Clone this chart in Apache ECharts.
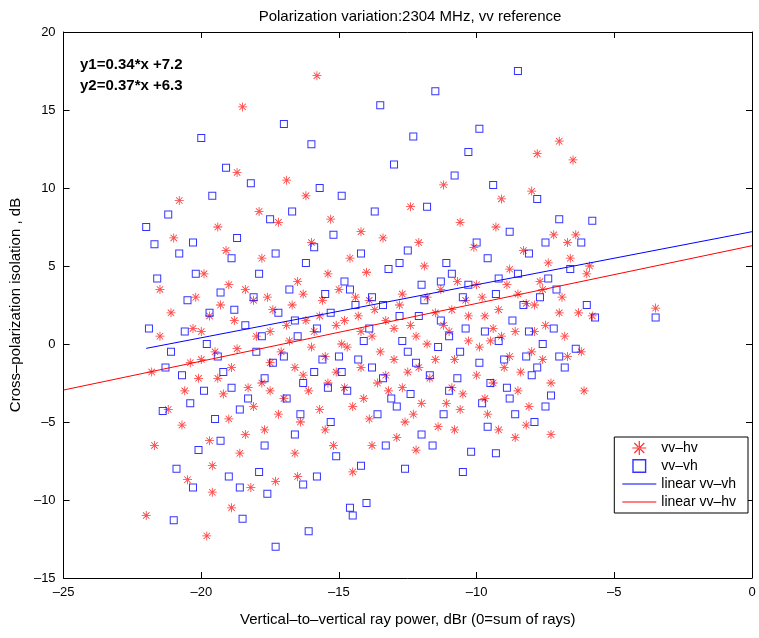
<!DOCTYPE html>
<html lang="en">
<head>
  <meta charset="UTF-8">
  <title>Polarization variation</title>
  <script src="https://cdn.jsdelivr.net/npm/echarts@6/dist/echarts.min.js"></script>
  <style>
    html, body { margin: 0; padding: 0; background: #fff; }
    #chart { width: 759px; height: 638px; }
  </style>
</head>
<body>
<div id="chart"></div>
<script>
// vv-hv points (red stars)
var vvHv = [
  [-22,-11],[-21.8,-1.8],[-21.5,3.5],[-21.2,-4.2],[-21,6.8],[-20.8,9.2],[-20.6,-3],[-20.5,-8.7],[-20.3,1],[-20.1,-2.2],
  [-19.9,4.5],[-19.8,-12.3],[-19.7,-6.2],[-19.5,-0.5],[-19.3,2.5],[-19.1,6],[-19,-4.8],[-18.9,-1.5],[-18.7,11],[-18.5,15.2],
  [-18.4,3.5],[-18.3,-2.8],[-18.2,-9.2],[-18,0.5],[-17.8,5.5],[-17.7,-5.5],[-17.5,-1.2],[-17.4,2.2],[-17.2,7.8],[-17,-3.5],
  [-16.9,10.5],[-16.8,0.2],[-16.6,-7],[-16.5,4],[-16.3,-2],[-16.2,1.5],[-16,6.5],[-15.8,17.2],[-15.7,-4.2],[-15.6,2.8],
  [-15.5,-0.8],[-15.3,8],[-15.2,-6.5],[-15,3.5],[-14.9,0],[-14.8,-2.8],[-14.6,5.5],[-14.5,-8.2],[-14.3,1.8],[-14.2,-1.5],
  [-14,4.6],[-13.9,-4.8],[-13.7,2.2],[-13.5,-0.5],[-13.4,6.8],[-13.2,-3],[-13,1],[-12.9,-6],[-12.7,3.2],[-12.5,-1.8],
  [-12.4,8.8],[-12.2,0.5],[-12,-3.8],[-11.9,5],[-11.7,-2.2],[-11.5,2],[-11.4,-5.3],[-11.2,10.2],[-11,0.8],[-10.8,-1],
  [-10.7,4],[-10.5,-3.2],[-10.3,1.8],[-10.1,6.2],[-10,-2],[-9.8,3],[-9.6,-4.5],[-9.5,0.2],[-9.3,7.5],[-9.2,2.2],
  [-9,-1.5],[-8.8,4.8],[-8.6,0.8],[-8.5,-3],[-8.3,6],[-8.2,2.6],[-8,-0.5],[-7.8,12.2],[-7.7,4],[-7.5,1.2],
  [-7.3,-2.5],[-7.2,7],[-7,13],[-6.9,3],[-6.7,-0.8],[-6.6,5.5],[-6.5,11.8],[-6.3,2],[-6.1,-3],[-6,4.5],
  [-5.8,1.8],[-3.5,2.3],
  [-21.5,0.5],[-20.7,-5.2],[-20.2,3],[-19.6,-9.5],[-19.2,-3.2],[-18.8,1.5],[-18.1,-4],[-17.6,3],[-17.1,-0.5],[-16.7,2.5],
  [-16.4,-5],[-15.9,0.8],[-15.4,-2.5],[-15.1,1.2],[-14.7,-0.2],[-14.4,3],[-13.8,0.5],[-13.3,-2],[-12.8,2.5],[-12.3,-4.5],
  [-11.8,0],[-11.3,3.5],[-10.9,-2.8],[-10.4,2.8],[-9.9,-0.2],[-9.4,1],[-8.9,3.8],[-8.4,-1.8],[-7.9,2.5],[-7.4,5.2],
  [-6.8,0.5],[-6.4,7],[-20,-1],[-18.6,-7],[-17.3,-8.8],[-16.1,-3],[-14.1,-3.5],[-12.6,-5],[-11.1,-3.8],[-9.7,-3.5],
  [-8.1,-4],[-7.6,-1],[-19.4,7.5],[-17.9,8.5],[-16.2,9.5],[-14.2,7.2],[-12.1,6.5],[-10.6,7.8],[-9.1,9.3],[-8,9.8],
  [-21.7,-6.5],[-21.1,2],[-20.4,-1.2],[-20,0.8],[-19.7,1.8],[-19.4,-2.2],[-19,3.8],[-18.7,-0.3],[-18.4,-5.8],[-18.1,2.8],
  [-17.8,-2.5],[-17.5,0.8],[-17.2,-4.5],[-16.9,1.2],[-16.6,-1.5],[-16.3,3.2],[-16,-0.2],[-15.7,1.8],[-15.4,4.5],[-15.1,-1.8],
  [-14.8,1.5],[-14.5,-4],[-14.2,0.8],[-13.9,2.8],[-13.6,-2.5],[-13.3,1.5],[-13,-1],[-12.7,-2.8],[-12.4,1.2],[-12.1,-1.5],
  [-11.8,3],[-11.5,-1],[-11.2,1.2],[-10.9,2.2],[-10.6,-4.2],[-10.3,0.2],[-10,3.8],[-9.7,1.8],[-9.4,-2.5],[-9.1,0.5],
  [-8.8,-0.8],[-8.5,3.2],[-8.2,-5.2],[-7.9,0.8],[-7.6,3.5],[-7.3,-5.8],[-7,2],[-6.7,6.5],[-6.2,-0.5],[-5.9,5],
  [-19.6,-7.8],[-18.9,-10.5],[-17.5,-3],[-16.5,-8.5],[-15.5,-5.5],[-13.8,-6.5],[-12.2,-6.8],[-10.8,-5.5],[-9.2,-5.5],[-8.6,-6]
];
// vv-vh points (blue squares)
var vvVh = [
  [-22,7.5],[-21.9,1],[-21.6,4.2],[-21.4,-4.3],[-21.2,8.3],[-21,-11.3],[-20.8,5.8],[-20.7,-2],[-20.5,2.8],[-20.3,6.5],
  [-20.1,-6.8],[-20,13.2],[-19.8,0],[-19.6,9.5],[-19.5,-4.8],[-19.3,3.3],[-19.1,11.3],[-18.9,-2.8],[-18.7,6.8],[-18.6,-9.2],
  [-18.4,1.2],[-18.2,10.3],[-18,-0.5],[-17.9,4.5],[-17.7,-6.5],[-17.5,8],[-17.3,-13],[-17.2,2],[-17,14.1],[-16.9,-3.5],
  [-16.7,8.5],[-16.5,0.5],[-16.3,-9],[-16.2,5.2],[-16,12.8],[-15.9,-1.8],[-15.7,10],[-15.5,3.2],[-15.3,-5],[-15.2,7],
  [-15,-0.8],[-14.9,9.5],[-14.7,-3],[-14.5,-11],[-14.4,2.5],[-14.2,5.8],[-14,-10.2],[-13.9,1],[-13.7,8.5],[-13.5,15.3],
  [-13.4,-2.2],[-13.2,4.8],[-13,11.5],[-12.9,-4],[-12.7,0.2],[-12.5,6],[-12.3,13.3],[-12.2,-1.2],[-12,3.8],[-11.8,8.8],
  [-11.6,-6.5],[-11.5,16.2],[-11.3,1.5],[-11.1,5.2],[-11,-3],[-10.8,10.8],[-10.6,-0.5],[-10.5,3],[-10.3,12.3],[-10.2,-6.9],
  [-10,6.5],[-9.9,13.8],[-9.7,0.8],[-9.5,-2.5],[-9.4,10.2],[-9.2,4.2],[-9,-1],[-8.8,7.2],[-8.6,-4.5],[-8.5,17.5],
  [-8.3,2.5],[-8.1,5.8],[-8,-2],[-7.8,9.3],[-7.6,0],[-7.5,6.5],[-7.3,-3.3],[-7.1,3.5],[-7,8],[-6.8,-1.5],
  [-6.6,4.8],[-6.4,-0.3],[-6.2,6.5],[-6,2.5],[-5.8,7.9],[-5.7,1.7],[-3.5,1.7],
  [-21.3,-1.5],[-20.6,0.8],[-19.9,-3],[-19.4,-0.8],[-18.8,2.2],[-18.3,-3.5],[-17.8,0.5],[-17.4,-1.2],[-16.8,3.5],[-16.4,-4.5],
  [-15.8,1],[-15.4,-2.8],[-14.8,4],[-14.3,-1],[-13.8,3],[-13.3,-6.5],[-12.8,1.8],[-12.4,-3.2],[-11.9,2.8],[-11.4,-0.2],
  [-10.9,4.5],[-10.4,1],[-9.8,-3.8],[-9.3,3.2],[-8.7,1.5],[-8.2,-0.8],[-7.7,3],[-7.2,1],[-19,-8.5],[-17.6,-9.6],
  [-16.6,-5.8],[-15.1,-7.2],[-13.6,-4.5],[-12.6,-8],[-11.2,-4.5],[-9.6,-5.3],[-7.9,-5],[-20.9,-8],[-18.5,-11.2],[-16.1,-12],
  [-14.6,-10.5],
  [-21.7,6.4],[-21.1,-0.5],[-20.4,-3.8],[-20.2,4.5],[-19.7,2],[-19.2,-1.8],[-18.9,5.5],[-18.6,-4.2],[-18.1,3],[-17.7,-2.2],
  [-17.3,5.8],[-17,-0.8],[-16.6,1.5],[-16.3,-2.5],[-15.9,6.2],[-15.6,-1],[-15.3,2],[-14.9,-1.8],[-14.6,3.5],[-14.1,0.2],
  [-13.8,-1.5],[-13.4,2.5],[-13.1,-3.5],[-12.8,5.2],[-12.5,-0.5],[-12.1,1.8],[-11.7,-2],[-11.3,4],[-11,0.5],[-10.7,-2.2],
  [-10.3,3.8],[-9.9,-1.2],[-9.6,5.5],[-9.2,0.2],[-8.9,-2.8],[-8.5,4.5],[-8.1,0.8],[-7.8,-1.5],[-7.4,4.2],[-7,-0.8],
  [-20.3,-9.2],[-19.3,-6.2],[-17.9,-8.2],[-15.8,-8.5],[-14.2,-7.8],[-12,-5.8],[-10.5,-8.2],[-9.3,-7],[-8.8,-3.5],[-7.5,-4]
];
// fitted lines: endpoints x, slope, offset
var fitVhX = [-22, 0], fitVhA = 0.34, fitVhB = 7.2;
var fitHvX = [-25, 0], fitHvA = 0.37, fitHvB = 6.3;
var xTicks = [-25, 0, 5];   // min, max, interval
var yTicks = [-15, 20, 5];

function linePts(xs, a, b) {
  return xs.map(function (x) { return [x, a * x + b]; });
}
function minus(v) { return String(v).replace('-', '\u2013'); }

var star = 'path://M-0.7,-8L0.7,-8L0.7,8L-0.7,8Z M-8,-0.7L8,-0.7L8,0.7L-8,0.7Z ' +
  'M-6.2,-5.2L5.2,6.2L6.2,5.2L-5.2,-6.2Z M6.2,-5.2L-5.2,6.2L-6.2,5.2L5.2,-6.2Z';
var square = 'path://M0,0L8,0L8,8L0,8Z M1,1L1,7L7,7L7,1Z';
var starIcon = 'path://M16.3,0L17.7,0L17.7,16L16.3,16Z M9,7.3L25,7.3L25,8.7L9,8.7Z ' +
  'M10.8,2.8L22.2,14.2L23.2,13.2L11.8,1.8Z M23.2,2.8L11.8,14.2L10.8,13.2L22.2,1.8Z';
var squareIcon = 'path://M12,0L22,0L22,10L12,10Z M13,1L13,9L21,9L21,1Z';
var lineIcon = 'path://M0,0L34,0L34,1L0,1Z';

var font = 'Liberation Sans, Arial, sans-serif';
function mk(ticks, extra) {
  var o = {
    min: ticks[0], max: ticks[1], interval: ticks[2],
    axisLine: { show: true, onZero: false, lineStyle: { color: '#000', width: 1 } },
    axisTick: { show: true, inside: true, length: 6, lineStyle: { color: '#000' } },
    splitLine: { show: false }
  };
  return Object.assign(o, extra);
}

var chart = echarts.init(document.getElementById('chart'));
chart.setOption({
  animation: false,
  title: {
    text: 'Polarization variation:2304 MHz, vv reference',
    left: 405, top: 4, textAlign: 'center',
    textStyle: { fontFamily: font, fontSize: 15, fontWeight: 'normal', color: '#000' }
  },
  grid: { left: 58, right: 7, top: 32, bottom: 60, show: false },
  legend: {
    orient: 'vertical', right: 11, top: 437, itemGap: 4,
    backgroundColor: '#fff', borderColor: '#000', borderWidth: 1, padding: [4, 12, 4, 8],
    textStyle: { fontFamily: font, fontSize: 14, color: '#000' },
    itemWidth: 34, itemHeight: 14,
    data: [
      { name: 'vv\u2013hv', icon: starIcon, itemStyle: { color: '#ff0000', borderWidth: 0 } },
      { name: 'vv\u2013vh', icon: squareIcon, itemStyle: { color: '#0000ff', borderWidth: 0 } },
      { name: 'linear vv\u2013vh', icon: lineIcon, itemStyle: { color: '#0000ff' } },
      { name: 'linear vv\u2013hv', icon: lineIcon, itemStyle: { color: '#ff0000' } }
    ]
  },
  graphic: [{
    type: 'text', left: 80, top: 54,
    style: { text: 'y1=0.34*x +7.2\ny2=0.37*x +6.3', lineHeight: 21,
      font: 'bold 15px ' + font, fill: '#000' }
  }],
  xAxis: [
    mk(xTicks, { type: 'value', position: 'bottom',
      name: 'Vertical\u2013to\u2013vertical ray power, dBr (0=sum of rays)',
      nameLocation: 'middle', nameGap: 34,
      nameTextStyle: { fontFamily: font, fontSize: 15, color: '#000' },
      axisLabel: { formatter: minus, fontFamily: font, fontSize: 13, color: '#000', margin: 8 } }),
    mk(xTicks, { type: 'value', position: 'top', axisLabel: { show: false } })
  ],
  yAxis: [
    mk(yTicks, { type: 'value', position: 'left',
      name: 'Cross\u2013polarization isolation , dB',
      nameLocation: 'middle', nameGap: 34,
      nameTextStyle: { fontFamily: font, fontSize: 15, color: '#000' },
      axisLabel: { formatter: minus, fontFamily: font, fontSize: 13, color: '#000', margin: 8 } }),
    mk(yTicks, { type: 'value', position: 'right', axisLabel: { show: false } })
  ],
  series: [
    { name: 'vv\u2013hv', type: 'scatter', data: vvHv, symbol: star, symbolSize: 9,
      itemStyle: { color: '#ff0000' }, emphasis: { disabled: true } },
    { name: 'vv\u2013vh', type: 'scatter', data: vvVh, symbol: square, symbolSize: 8,
      itemStyle: { color: '#0000ff' }, emphasis: { disabled: true } },
    { name: 'linear vv\u2013vh', type: 'line', data: linePts(fitVhX, fitVhA, fitVhB), symbol: 'none',
      lineStyle: { color: '#0000ff', width: 1 }, itemStyle: { color: '#0000ff' } },
    { name: 'linear vv\u2013hv', type: 'line', data: linePts(fitHvX, fitHvA, fitHvB), symbol: 'none',
      lineStyle: { color: '#ff0000', width: 1 }, itemStyle: { color: '#ff0000' } }
  ]
});
</script>
</body>
</html>
